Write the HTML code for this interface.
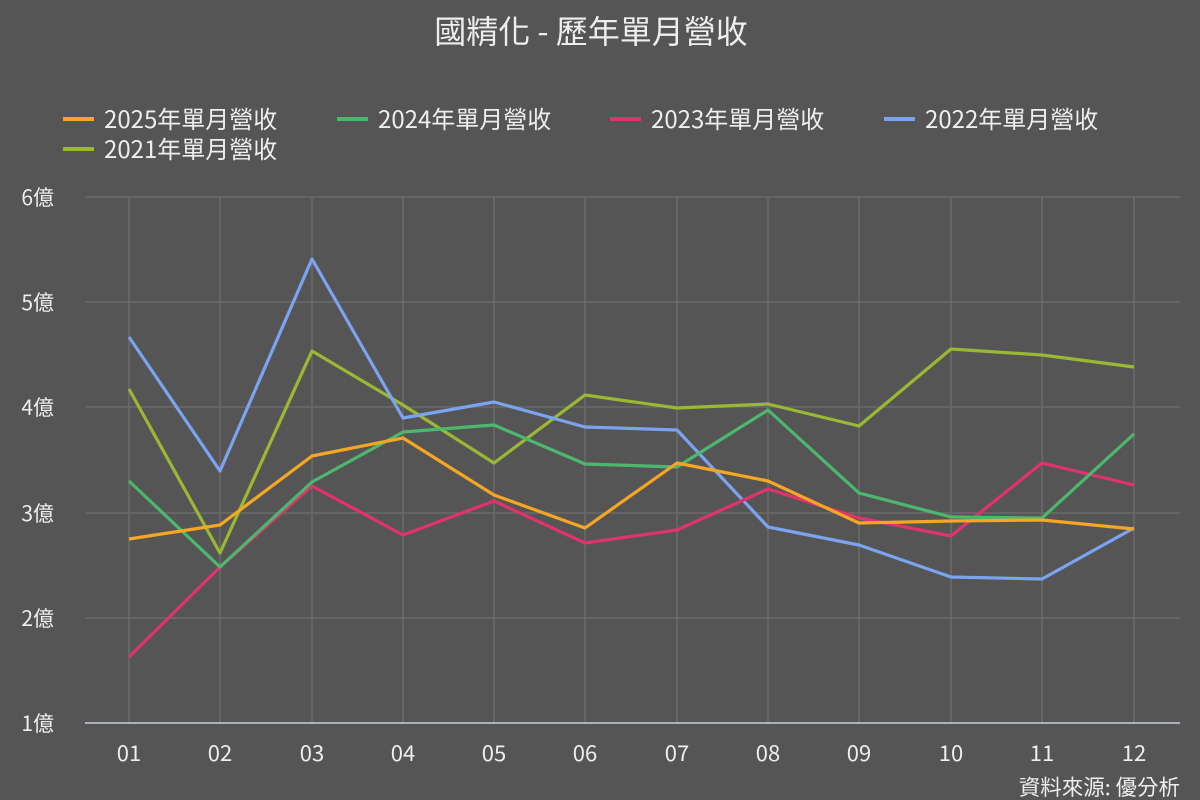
<!DOCTYPE html>
<html><head><meta charset="utf-8"><style>
html,body{margin:0;padding:0;background:#555555;}
svg{display:block;font-family:"Noto Sans CJK TC","Liberation Sans",sans-serif;}
</style></head><body>
<svg width="1200" height="800" viewBox="0 0 1200 800">
<rect width="1200" height="800" fill="#555555"/>
<text x="591" y="43" fill="#eeeeee" font-size="32" text-anchor="middle">國精化 - 歷年單月營收</text>
<g font-size="24" fill="#eeeeee">
<line x1="63" y1="119" x2="94" y2="119" stroke="#f5a623" stroke-width="4"/><text x="104" y="128">2025年單月營收</text>
<line x1="337" y1="119" x2="368" y2="119" stroke="#4cb86e" stroke-width="4"/><text x="378" y="128">2024年單月營收</text>
<line x1="610" y1="119" x2="641" y2="119" stroke="#e0336b" stroke-width="4"/><text x="651" y="128">2023年單月營收</text>
<line x1="884" y1="119" x2="915" y2="119" stroke="#7ba4f0" stroke-width="4"/><text x="925" y="128">2022年單月營收</text>
<line x1="63" y1="149" x2="94" y2="149" stroke="#9ab833" stroke-width="4"/><text x="104" y="158">2021年單月營收</text>
</g>
<g stroke="#6b6b6b" stroke-width="1.5">
<line x1="85" y1="197" x2="1180" y2="197"/><line x1="85" y1="302" x2="1180" y2="302"/>
<line x1="85" y1="407" x2="1180" y2="407"/><line x1="85" y1="513" x2="1180" y2="513"/>
<line x1="85" y1="618" x2="1180" y2="618"/>
<line x1="129" y1="197" x2="129" y2="723"/><line x1="220" y1="197" x2="220" y2="723"/>
<line x1="312" y1="197" x2="312" y2="723"/><line x1="403" y1="197" x2="403" y2="723"/>
<line x1="494" y1="197" x2="494" y2="723"/><line x1="585" y1="197" x2="585" y2="723"/>
<line x1="677" y1="197" x2="677" y2="723"/><line x1="768" y1="197" x2="768" y2="723"/>
<line x1="859" y1="197" x2="859" y2="723"/><line x1="951" y1="197" x2="951" y2="723"/>
<line x1="1042" y1="197" x2="1042" y2="723"/><line x1="1134" y1="197" x2="1134" y2="723"/>
</g>
<line x1="85" y1="723" x2="1180" y2="723" stroke="#c8d0dc" stroke-width="1.5"/>
<g font-size="21" fill="#eeeeee" text-anchor="end">
<text x="54" y="205">6億</text><text x="54" y="310">5億</text><text x="54" y="415">4億</text>
<text x="54" y="521">3億</text><text x="54" y="626">2億</text><text x="54" y="731">1億</text>
</g>
<g font-size="22" fill="#eeeeee" text-anchor="middle">
<text x="129" y="761">01</text><text x="220" y="761">02</text><text x="312" y="761">03</text>
<text x="403" y="761">04</text><text x="494" y="761">05</text><text x="585" y="761">06</text>
<text x="677" y="761">07</text><text x="768" y="761">08</text><text x="859" y="761">09</text>
<text x="951" y="761">10</text><text x="1042" y="761">11</text><text x="1134" y="761">12</text>
</g>
<g fill="none" stroke-width="3.2" stroke-linejoin="round">
<polyline stroke="#9ab833" points="129,389 220,553 312,351 403,405 494,463 585,395 677,408 768,404 859,426 951,349 1042,355 1134,367"/>
<polyline stroke="#7ba4f0" points="129,337 220,471 312,259 403,418 494,402 585,427 677,430 768,527 859,545 951,577 1042,579 1134,528"/>
<polyline stroke="#e0336b" points="129,657 220,567 312,486 403,535 494,501 585,543 677,530 768,489 859,518 951,536 1042,463 1134,485"/>
<polyline stroke="#4cb86e" points="129,481 220,567 312,482 403,432 494,425 585,464 677,467 768,410 859,493 951,517 1042,518 1134,434"/>
<polyline stroke="#f5a623" points="129,539 220,525 312,456 403,438 494,495 585,528 677,463 768,481 859,523 951,521 1042,520 1134,529"/>
</g>
<text x="1180" y="795" font-size="21.5" fill="#eeeeee" text-anchor="end">資料來源: 優分析</text>
</svg>
</body></html>
